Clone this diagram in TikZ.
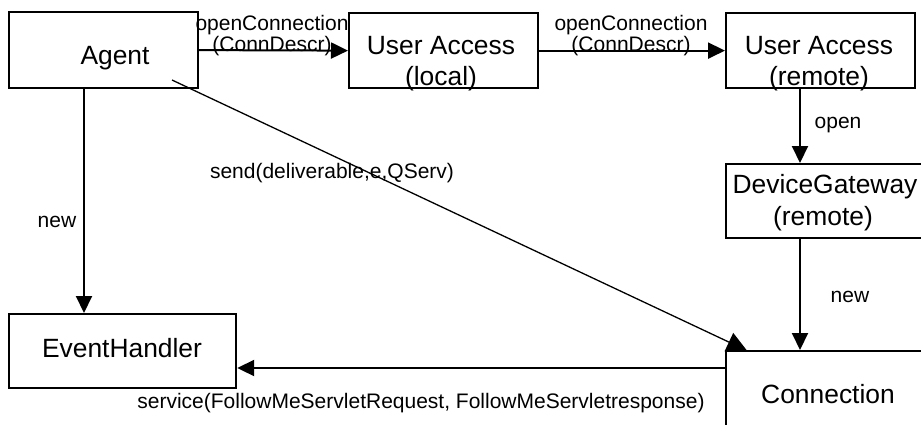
\documentclass[tikz,border=0pt]{standalone}
\usepackage{fontspec}
\setmainfont{Liberation Sans}
\usetikzlibrary{arrows.meta}

\begin{document}
\begin{tikzpicture}[x=1pt,y=-1pt,
  box/.style={draw,line width=2.2pt,inner sep=0pt,anchor=north west,fill=white},
  boxtext/.style={font=\fontsize{26.4}{31}\selectfont,anchor=base,inner sep=0pt},
  lbl/.style={font=\fontsize{21}{22}\selectfont,anchor=base,inner sep=0pt},
  conn/.style={line width=2pt,-{Triangle[length=17pt,width=16pt]}},
  thinconn/.style={line width=1.3pt,-{Triangle[length=20pt,width=20pt]}},
]
\useasboundingbox (0,0) rectangle (921,424);
\clip (0,0) rectangle (921,424);

% objects
\node[box,minimum width=189pt,minimum height=76pt] (agent) at (8,11) {};
\node[boxtext] (agentA) at (115,64) {Agent};

\node[box,minimum width=189pt,minimum height=75pt] (ual) at (348,12) {};
\node[boxtext] (ualA) at (441,54) {User Access};
\node[boxtext] (ualB) at (441,85) {(local)};

\node[box,minimum width=189pt,minimum height=75pt] (uar) at (725,12) {};
\node[boxtext] (uarA) at (819,54) {User Access};
\node[boxtext] (uarB) at (819,85) {(remote)};

\node[box,minimum width=210pt,minimum height=74pt] (dg) at (725,163) {};
\node[boxtext] (dgA) at (825,193) {DeviceGateway};
\node[boxtext] (dgB) at (823,225) {(remote)};

\node[box,minimum width=227pt,minimum height=74pt] (eh) at (8,313) {};
\node[boxtext] (ehA) at (122,357) {EventHandler};

\node[box,minimum width=230pt,minimum height=110pt] (cb) at (725,350) {};
\node[boxtext] (cbA) at (828,403) {Connection};

% messages
\draw[conn] (agent.east) -- (ual.west);
\node[lbl] (m1a) at (272,30) {openConnection};
\node[lbl] (m1b) at (272,51.5) {(ConnDescr)};

\draw[conn] (ual.east) -- (uar.west);
\node[lbl] (m2a) at (631,30) {openConnection};
\node[lbl] (m2b) at (631,51.5) {(ConnDescr)};

\draw[conn] (uar.south -| 800,0) -- (dg.north -| 800,0);
\node[lbl] (m3) at (838,128) {open};

\draw[conn] (dg.south -| 800,0) -- (cb.north -| 800,0);
\node[lbl] (m4) at (850,302) {new};

\draw[conn] (agent.south -| 84,0) -- (eh.north -| 84,0);
\node[lbl] (m5) at (57,227) {new};

\coordinate (sendfrom) at (172,80);
\coordinate (sendto) at (747,350.6);
\draw[thinconn] (sendfrom) -- (sendto);
\node[lbl] (m6) at (332,178) {send(deliverable,e,QServ)};

\draw[conn] (cb.west |- 0,368) -- (eh.east |- 0,368);
\node[lbl] (m7) at (421,408) {service(FollowMeServletRequest, FollowMeServletresponse)};
\end{tikzpicture}
\end{document}
